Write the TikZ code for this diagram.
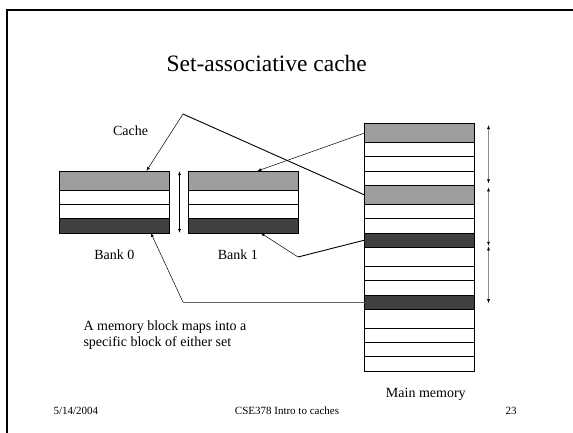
\documentclass[tikz,border=0pt]{standalone}
\usepackage{fontspec}
\setmainfont{Liberation Serif}
\usetikzlibrary{
	arrows.meta,
	positioning,
	calc
}

\definecolor{blocklight}{gray}{0.62}
\definecolor{blockdark}{gray}{0.25}

\tikzset{
	row/.style={draw, line width=.8pt, minimum width=110pt, inner sep=0pt, outer sep=0pt},
	light/.style={fill=blocklight},
	dark/.style={fill=blockdark},
	feed/.style={line width=.9pt},
	link/.style={line width=.5pt, -{Latex[length=4pt,width=3pt]}},
	span/.style={line width=.6pt, {Latex[length=4pt,width=3pt]}-{Latex[length=4pt,width=3pt]}},
	label/.style={font=\fontsize{14}{16.7}\selectfont, inner sep=0pt},
	footer/.style={font=\fontsize{11}{13}\selectfont, inner sep=0pt}
}

\begin{document}
\begin{tikzpicture}[x=1pt, y=-1pt]

		\useasboundingbox (0,0) rectangle (573,432);
		\draw[line width=2pt] (7,440) -- (7,10) -- (580,10);

		\node[font=\fontsize{23.5}{28}\selectfont] (title) at (266.7,63) {Set-associative cache};

		\foreach \b/\x in {0/59.5, 1/188} {
			\node[row, light, minimum height=19pt, anchor=north west] (c\b0) at (\x,171) {};
			\node[row, minimum height=14.3pt, below=0pt of c\b0] (c\b1) {};
			\node[row, minimum height=14.3pt, below=0pt of c\b1] (c\b2) {};
			\node[row, dark, minimum height=14.3pt, below=0pt of c\b2] (c\b3) {};
		}

		\node[row, light, minimum height=19pt, anchor=north west] (m0) at (364.5,123.5) {};
		\foreach \i/\h/\f in {1/14.3/white, 2/14.3/white, 3/14.3/white, 4/19/blocklight,
			5/14.3/white, 6/14.3/white, 7/14.3/blockdark, 8/19/white,
			9/14.3/white, 10/14.3/white, 11/14.3/blockdark, 12/19/white,
			13/14.3/white, 14/14.3/white, 15/14.3/white} {
			\pgfmathtruncatemacro{\j}{\i-1}
			\node[row, fill=\f, minimum height=\h pt, below=0pt of m\j] (m\i) {};
		}

		\draw[span] ($(c00.north east)+(10,0)$) -- ($(c03.south east)+(10,0)$);
		\foreach \a/\z/\p/\q in {0/3/1.5/-2, 4/7/2/-1.5, 8/11/-1/-6} {
			\draw[span, draw=black!45, {Latex[length=4pt,width=3pt,black]}-{Latex[length=4pt,width=3pt,black]}] ($(m\a.north east)+(14,\p)$) -- ($(m\z.south east)+(14,\q)$);
		}

		\coordinate (peak) at (183,114);
		\coordinate (knee) at (298,257);
		\coordinate (heel) at (183,300);

		\draw[link] (m0.west) -- ($(c10.north west)!.63!(c10.north east)$);
		\draw[feed] (m4.west) -- (peak);
		\draw[link] (peak) -- ($(c00.north west)!.79!(c00.north east)$);
		\draw[feed] (m7.west) -- (knee);
		\draw[link] (knee) -- ($(c13.south west)!.66!(c13.south east)$);
		\draw[feed, black!60] (m11.west) -- (m11.west -| heel);
		\draw[link] (m11.west -| heel) -- ($(c03.south west)!.83!(c03.south east)$);

		\node[label] (cache) at (130.5,130.7) {Cache};
		\node[label] (bank0) at (114.3,255) {Bank 0};
		\node[label] (bank1) at (237.8,255) {Bank 1};
		\node[label] (main) at (425.8,394) {Main memory};
		\node[label, align=left, anchor=west] (note) at (83.3,335) {A memory block maps into a\\specific block of either set};

		\node[footer, anchor=west] (date) at (53.3,411) {5/14/2004};
		\node[footer] (course) at (287,411) {CSE378 Intro to caches};
		\node[footer] (page) at (511,411) {23};

	\end{tikzpicture}
\end{document}
